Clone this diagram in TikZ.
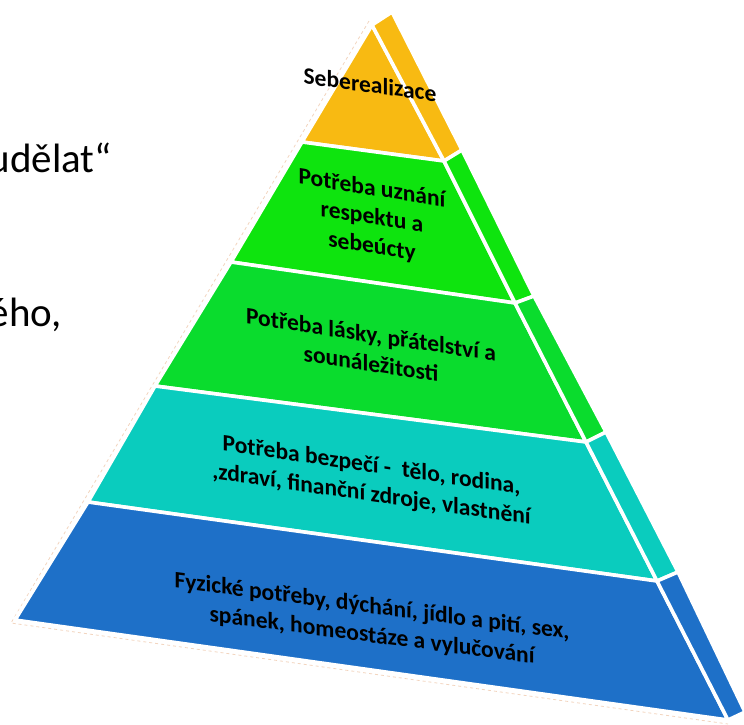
\documentclass[tikz,border=0pt]{standalone}
\usepackage{fontspec}
\setmainfont{Carlito}
\newlength{\du}
\setlength{\du}{1\unitlength}
\definecolor{realizacecolor}{RGB}{248,186,18}
\definecolor{uznanicolor}{RGB}{14,228,14}
\definecolor{laskycolor}{RGB}{10,220,45}
\definecolor{bezpecicolor}{RGB}{10,204,190}
\definecolor{fyzickecolor}{RGB}{30,112,200}
\definecolor{selectcolor}{RGB}{242,212,190}
\tikzset{
  levelface/.style={fill=#1, draw=white, line width=3.6\du, line join=round},
  levellabel/.style={anchor=north, align=center, inner sep=0pt, outer sep=0pt, color=black,
    font=\bfseries\fontsize{23.5}{29}\selectfont},
  slidetext/.style={anchor=base east, inner sep=0pt, outer sep=0pt, color=black,
    font=\fontsize{41}{49}\selectfont},
}
\begin{document}
\begin{tikzpicture}[even odd rule]
\pgftransformxscale{1.000000}
\pgftransformyscale{-1.000000}
\useasboundingbox (0.000000\du,0.000000\du) rectangle (744.000000\du,724.000000\du);
\clip (0.000000\du,0.000000\du) rectangle (744.000000\du,724.000000\du);
% text left of the pyramid, cut by the page
\node[slidetext] (udelat) at (112.000000\du,172.000000\du){udělat“};
\node[slidetext] (eho) at (62.000000\du,326.000000\du){ého,};
% selection frame
\draw[color=selectcolor, line width=0.8\du, dash pattern=on 3\du off 3\du]
  (369.000000\du,21.000000\du)--(11.000000\du,623.000000\du)--(728.000000\du,724.000000\du);
% front faces
\filldraw[levelface=realizacecolor] (372.000000\du,25.000000\du)--(444.000000\du,161.000000\du)--(302.000000\du,142.000000\du)--cycle;
\filldraw[levelface=uznanicolor] (302.000000\du,142.000000\du)--(444.000000\du,161.000000\du)--(515.000000\du,303.000000\du)--(231.000000\du,262.000000\du)--cycle;
\filldraw[levelface=laskycolor] (231.000000\du,262.000000\du)--(515.000000\du,303.000000\du)--(586.000000\du,442.000000\du)--(155.000000\du,386.000000\du)--cycle;
\filldraw[levelface=bezpecicolor] (155.000000\du,386.000000\du)--(586.000000\du,442.000000\du)--(657.000000\du,581.000000\du)--(88.000000\du,502.000000\du)--cycle;
\filldraw[levelface=fyzickecolor] (88.000000\du,502.000000\du)--(657.000000\du,581.000000\du)--(728.000000\du,720.000000\du)--(15.000000\du,620.000000\du)--cycle;
% right faces
\filldraw[levelface=realizacecolor] (372.000000\du,25.000000\du)--(392.000000\du,12.000000\du)--(462.000000\du,150.000000\du)--(444.000000\du,161.000000\du)--cycle;
\filldraw[levelface=uznanicolor] (444.000000\du,161.000000\du)--(462.000000\du,150.000000\du)--(534.000000\du,296.000000\du)--(515.000000\du,303.000000\du)--cycle;
\filldraw[levelface=laskycolor] (515.000000\du,303.000000\du)--(534.000000\du,296.000000\du)--(606.000000\du,432.000000\du)--(586.000000\du,442.000000\du)--cycle;
\filldraw[levelface=bezpecicolor] (586.000000\du,442.000000\du)--(606.000000\du,432.000000\du)--(678.000000\du,572.000000\du)--(657.000000\du,581.000000\du)--cycle;
\filldraw[levelface=fyzickecolor] (657.000000\du,581.000000\du)--(678.000000\du,572.000000\du)--(745.000000\du,712.000000\du)--(728.000000\du,720.000000\du)--cycle;
% setfont left to latex
\node[levellabel, anchor=base, yslant=-0.136] (realizace) at (370.000000\du,92.700000\du){Seberealizace};
\node[levellabel, yslant=-0.160] (uznani) at (372.000000\du,179.000000\du){Potřeba uznání\\respektu a\\sebeúcty};
\node[levellabel, yslant=-0.151] (lasky) at (371.000000\du,326.000000\du){Potřeba lásky, přátelství a\\sounáležitosti\hspace{10pt}};
\node[levellabel, yslant=-0.145] (bezpeci) at (371.500000\du,456.000000\du){Potřeba bezpečí -\ \ tělo, rodina,\\,zdraví, finanční zdroje, vlastnění};
\node[levellabel, yslant=-0.130] (fyzicke) at (372.000000\du,597.000000\du){Fyzické potřeby, dýchání, jídlo a pití, sex,\\spánek, homeostáze a vylučování};
\end{tikzpicture}
\end{document}
